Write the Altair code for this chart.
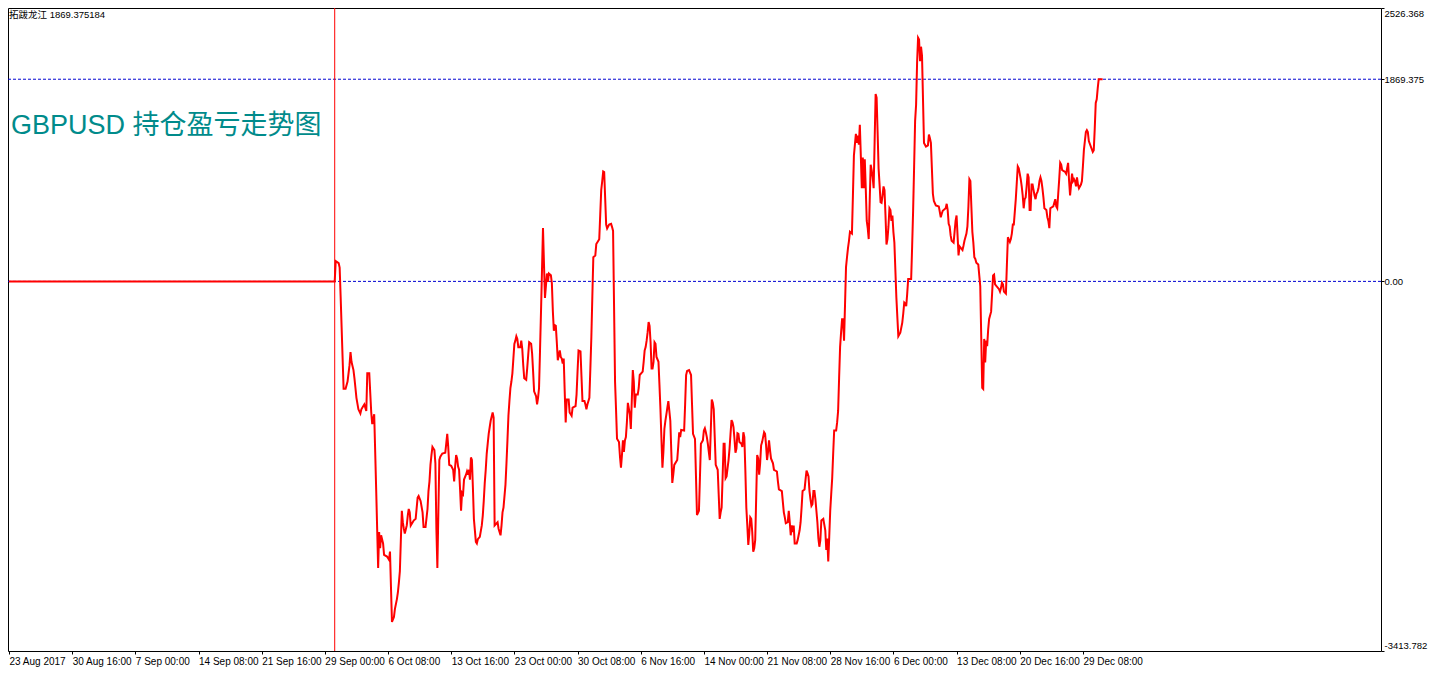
import altair as alt
import pandas as pd

# ---- data (bar index, running P/L) ----
bars = [
    0, 330, 331, 334, 335, 336, 337, 338, 339, 341, 343, 345, 346, 347, 349, 350, 351, 352, 354, 356,
    357, 359, 360, 362, 363, 365, 366, 367, 368, 369, 370, 371, 372, 373, 374, 375, 376, 377, 379, 380,
    383, 385, 386, 387, 388, 390, 391, 393, 394, 395, 396, 397, 398, 399, 400, 401, 403, 404, 405, 406,
    407, 409, 410, 412, 414, 415, 417, 419, 420, 422, 424, 425, 426, 427, 428, 429, 431, 432, 433, 434,
    435, 436, 437, 439, 442, 443, 444, 445, 446, 448, 450, 451, 452, 453, 454, 455, 456, 457, 458, 459,
    460, 461, 463, 464, 465, 466, 467, 468, 469, 470, 471, 472, 473, 474, 475, 477, 479, 480, 481, 482,
    483, 484, 485, 486, 487, 488, 490, 491, 492, 495, 496, 498, 499, 500, 501, 503, 504, 505, 506, 507,
    508, 509, 510, 511, 512, 513, 514, 515, 516, 518, 519, 520, 521, 522, 524, 525, 526, 527, 529, 530,
    531, 532, 534, 535, 536, 537, 538, 539, 540, 541, 542, 543, 545, 546, 547, 549, 550, 551, 552, 553,
    554, 555, 556, 558, 559, 560, 561, 562, 563, 564, 565, 567, 568, 570, 571, 574, 575, 576, 577, 579,
    580, 581, 583, 584, 585, 586, 588, 589, 590, 591, 592, 594, 595, 598, 599, 600, 601, 602, 603, 604,
    605, 606, 608, 610, 611, 612, 613, 614, 615, 616, 618, 619, 620, 621, 622, 623, 624, 625, 626, 627,
    629, 630, 631, 632, 633, 634, 635, 637, 638, 639, 642, 643, 644, 645, 646, 647, 648, 649, 650, 651,
    652, 653, 654, 655, 656, 658, 659, 660, 661, 662, 663, 664, 665, 666, 667, 668, 669, 670, 671, 672,
    673, 674, 677, 678, 679, 680, 681, 684, 685, 686, 687, 689, 691, 692, 693, 695, 696, 697, 699, 700,
    701, 703, 704, 705, 706, 707, 708, 709, 710, 711, 712, 713, 714, 715, 716, 718, 719, 720, 721, 722,
    723, 724, 725, 726, 727, 728, 729, 730, 731, 732, 733, 734, 735, 736, 737, 738, 739, 740, 742, 743,
    744, 745, 746, 747, 748, 749, 750, 751, 752, 753, 754, 755, 756, 757, 758, 759, 760, 761, 762, 763,
    764, 765, 766, 767, 768, 769, 770, 771, 772, 774, 775, 778, 779, 780, 783, 784, 785, 786, 787, 789,
    790, 791, 792, 793, 794, 795, 796, 798, 799, 801, 802, 803, 804, 806, 807, 808, 809, 810, 811, 812,
    813, 814, 815, 816, 817, 818, 819, 820, 821, 822, 823, 825, 827, 828, 829, 830, 831, 832, 833, 834,
    835, 836, 838, 839, 840, 841, 842, 843, 844, 845, 846, 847, 848, 849, 850, 851, 852, 854, 855, 856,
    857, 858, 859, 860, 861, 862, 863, 864, 865, 866, 867, 868, 869, 870, 871, 872, 873, 874, 875, 876,
    877, 878, 879, 880, 881, 882, 883, 884, 885, 886, 887, 888, 889, 890, 891, 892, 893, 894, 895, 896,
    897, 898, 899, 900, 901, 903, 905, 906, 907, 908, 909, 910, 911, 914, 915, 916, 917, 918, 919, 920,
    921, 922, 923, 924, 925, 926, 927, 929, 931, 932, 933, 934, 935, 936, 937, 939, 942, 944, 945, 946,
    949, 950, 951, 952, 953, 954, 955, 957, 958, 959, 960, 961, 962, 963, 966, 967, 968, 970, 971, 972,
    973, 974, 975, 976, 977, 978, 979, 980, 982, 983, 984, 985, 986, 987, 988, 989, 990, 991, 992, 993,
    995, 996, 997, 998, 999, 1003, 1004, 1005, 1006, 1007, 1008, 1010, 1011, 1012, 1014, 1015, 1016, 1017, 1018, 1019,
    1020, 1021, 1022, 1023, 1024, 1025, 1026, 1027, 1028, 1029, 1030, 1031, 1032, 1033, 1034, 1035, 1036, 1037, 1038, 1039,
    1040, 1041, 1042, 1043, 1044, 1045, 1046, 1047, 1048, 1049, 1051, 1052, 1053, 1054, 1055, 1058, 1059, 1060, 1061, 1062,
    1063, 1064, 1065, 1066, 1067, 1070, 1071, 1072, 1073, 1074, 1075, 1076, 1077, 1078, 1079, 1080, 1081, 1082, 1083, 1084,
    1086, 1087, 1088, 1089, 1090, 1091, 1092, 1093, 1094, 1096, 1098, 1099, 1100, 1101, 1102, 1103, 1104, 1106, 1108,
]

pnl = [
    0, 0, 187, 169, 127, -140, -427, -714, -993, -993, -926, -775, -653, -744, -820, -896, -986, -1077, -1183, -1222,
    -1183, -1153, -1138, -1198, -850, -850, -1032, -1213, -1320, -1274, -1229, -1576, -1924, -2287, -2650, -2318, -2468, -2348, -2423, -2529,
    -2545, -2575, -2499, -2831, -3149, -3104, -3028, -2938, -2877, -2786, -2681, -2393, -2121, -2227, -2287, -2332, -2257, -2166, -2105, -2136,
    -2257, -2227, -2212, -2196, -2000, -1985, -2030, -2136, -2272, -2272, -2105, -1939, -1849, -1697, -1606, -1531, -1561, -1683, -2287, -2650,
    -2136, -1652, -1622, -1592, -1585, -1501, -1410, -1531, -1697, -1706, -1742, -1849, -1712, -1606, -1637, -1712, -1742, -1924, -2121, -1955,
    -1969, -1833, -1788, -1758, -1788, -1742, -1833, -1628, -1652, -1909, -2196, -2302, -2409, -2423, -2384, -2363, -2257, -2166, -2030, -1864,
    -1742, -1592, -1501, -1410, -1349, -1289, -1213, -1259, -2257, -2227, -2287, -2348, -2257, -2136, -2091, -1879, -1683, -1470, -1243, -1107,
    -986, -926, -850, -714, -578, -548, -508, -533, -608, -608, -548, -623, -775, -896, -911, -805, -684, -563, -578, -669,
    -835, -1016, -1062, -1138, -1077, -986, -639, -276, 103, 493, 163, -154, 73, -4, 73, 57, -18, -276, -457, -406,
    -412, -563, -730, -639, -699, -714, -760, -714, -1016, -1304, -1093, -1093, -1213, -1243, -1168, -1153, -1047, -835, -639, -648,
    -880, -1107, -1107, -1138, -1183, -1138, -1077, -805, -517, -140, 223, 239, 345, 390, 617, 844, 926, 1016, 1010, 768,
    526, 490, 526, 532, 502, 466, -231, -926, -1183, -1456, -1486, -1622, -1722, -1606, -1470, -1576, -1470, -1440, -1304, -1123,
    -1229, -1365, -1093, -820, -926, -1168, -1047, -1047, -986, -866, -835, -744, -639, -608, -548, -472, -376, -412, -563, -805,
    -805, -744, -563, -578, -699, -744, -957, -1183, -1456, -1722, -1576, -1365, -1289, -1229, -1168, -1107, -1198, -1289, -1576, -1864,
    -1788, -1697, -1652, -1531, -1395, -1440, -1374, -1379, -1138, -866, -829, -820, -866, -1138, -1410, -1456, -1803, -2160, -2121, -1819,
    -1501, -1470, -1379, -1359, -1395, -1440, -1501, -1576, -1652, -1379, -1093, -1123, -1183, -1440, -1697, -1742, -1969, -2196, -2136, -2091,
    -1803, -1501, -1501, -1819, -1803, -1728, -1652, -1546, -1410, -1283, -1304, -1349, -1456, -1585, -1546, -1404, -1410, -1486, -1501, -1531,
    -1395, -1440, -1742, -2091, -2257, -2438, -2332, -2182, -2196, -2318, -2499, -2468, -2393, -2000, -1606, -1637, -1788, -1683, -1516, -1486,
    -1440, -1395, -1410, -1516, -1652, -1576, -1470, -1561, -1637, -1683, -1742, -1758, -1849, -1924, -1939, -2039, -2136, -2182, -2236, -2227,
    -2121, -2227, -2348, -2257, -2318, -2257, -2423, -2423, -2393, -2302, -2227, -2091, -1939, -1924, -1833, -1749, -1773, -1803, -1939, -2015,
    -2075, -2060, -1939, -1939, -2015, -2121, -2227, -2378, -2454, -2393, -2212, -2196, -2302, -2484, -2378, -2590, -2363, -2121, -1969, -1819,
    -1592, -1379, -1379, -1304, -1198, -896, -608, -472, -351, -351, -548, -215, 132, 223, 308, 375, 458, 442, 794, 1163,
    1264, 1364, 1280, 1348, 1264, 1448, 1163, 861, 1146, 861, 1130, 861, 559, 492, 391, 743, 1079, 1029, 962, 861,
    1298, 1733, 1700, 1381, 1045, 895, 733, 727, 794, 878, 844, 609, 341, 391, 508, 676, 660, 559, 609, 458,
    358, 106, -146, -330, -508, -475, -381, -297, -196, -206, -230, -113, 22, 22, 324, 660, 1063, 1482, 1633, 2019,
    2254, 2237, 2036, 2170, 2086, 1683, 1280, 1247, 1257, 1358, 1324, 1280, 1045, 810, 743, 703, 693, 593, 626, 653,
    676, 717, 660, 532, 508, 425, 375, 358, 458, 559, 609, 425, 240, 324, 290, 330, 375, 442, 508, 693,
    945, 928, 693, 458, 358, 223, 207, 173, 156, 55, -45, -515, -985, -995, -532, -750, -548, -599, -448, -348,
    -280, -113, 55, 63, -28, -72, -95, -62, -12, -28, -95, -113, 156, 408, 364, 391, 442, 525, 525, 643,
    760, 911, 1063, 1045, 996, 945, 878, 794, 676, 760, 777, 878, 996, 962, 660, 660, 895, 895, 844, 794,
    760, 810, 828, 861, 928, 962, 928, 861, 777, 676, 660, 593, 559, 492, 676, 693, 727, 760, 693, 676,
    810, 945, 1096, 1079, 1029, 1012, 996, 1045, 1096, 928, 794, 895, 996, 928, 945, 928, 878, 962, 895, 861,
    895, 928, 1063, 1213, 1298, 1381, 1398, 1381, 1298, 1247, 1197, 1213, 1415, 1650, 1683, 1784, 1869.375, 1869.375, 1869.375,
]

tick_bars = [0, 64, 128, 192, 256, 320, 384, 448, 512, 576, 640, 704, 768, 832, 896, 960, 1024, 1088]
tick_labels = [
    "23 Aug 2017", "30 Aug 16:00", "7 Sep 00:00", "14 Sep 08:00", "21 Sep 16:00", "29 Sep 00:00",
    "6 Oct 08:00", "13 Oct 16:00", "23 Oct 00:00", "30 Oct 08:00", "6 Nov 16:00", "14 Nov 00:00",
    "21 Nov 08:00", "28 Nov 16:00", "6 Dec 00:00", "13 Dec 08:00", "20 Dec 16:00", "29 Dec 08:00",
]
price_values = [2526.368, 1869.375184, 0.0, -3413.782]
price_labels = ["2526.368", "1869.375", "0.00", "-3413.782"]
level_values = [1869.375184, 0.0]
marker_bar = [330]
title_text = ["GBPUSD 持仓盈亏走势图"]
info_text = ["拓跋龙江 1869.375184"]

AX_FONT = "Liberation Sans"

df = pd.DataFrame({"bar": bars, "pnl": pnl})
x_scale = alt.Scale(domain=[-1, 1390], nice=False, zero=False)
y_scale = alt.Scale(domain=[-3418, 2528], nice=False, zero=False)

x_expr = "".join(f"datum.value == {b} ? '{t}' : " for b, t in zip(tick_bars, tick_labels)) + "''"
y_expr = "".join(f"abs(datum.value - ({v})) < 0.5 ? '{t}' : " for v, t in zip(price_values, price_labels)) + "''"

x_axis = alt.Axis(
    values=tick_bars, labelExpr=x_expr, title=None, grid=False, domain=False,
    tickSize=3, tickColor="black", labelColor="black", labelFont=AX_FONT,
    labelFontSize=10, labelAlign="left", labelBaseline="top", labelPadding=2,
    labelFlush=False, labelOverlap=False, labelBound=False,
)
y_axis = alt.Axis(
    orient="right", values=price_values, labelExpr=y_expr, title=None, grid=False,
    domain=False, tickSize=3, tickColor="black", labelColor="black", labelFont=AX_FONT,
    labelFontSize=9.5, labelPadding=0, labelFlush=5, labelOverlap=False,
)

levels = alt.Chart(pd.DataFrame({"level": level_values})).mark_rule(
    color="#0000D0", strokeWidth=1, strokeDash=[3, 2]
).encode(y=alt.Y("level:Q", scale=y_scale, axis=y_axis))

line = alt.Chart(df).mark_line(color="#FF0000", strokeWidth=2, interpolate="linear").encode(
    x=alt.X("bar:Q", scale=x_scale, axis=x_axis),
    y=alt.Y("pnl:Q", scale=y_scale, axis=y_axis),
)

marker = alt.Chart(pd.DataFrame({"bar": marker_bar})).mark_rule(
    color="#FF0000", strokeWidth=1
).encode(x=alt.X("bar:Q", scale=x_scale, axis=x_axis))

title = alt.Chart(pd.DataFrame({"t": title_text})).mark_text(
    align="left", baseline="middle", fontSize=27, color="#008B8B",
    font="Liberation Sans, Noto Sans CJK SC",
).encode(text="t:N", x=alt.value(3), y=alt.value(118))

info = alt.Chart(pd.DataFrame({"t": info_text})).mark_text(
    align="left", baseline="top", fontSize=9.5, color="black",
    font="Liberation Sans, Noto Sans CJK SC",
).encode(text="t:N", x=alt.value(1), y=alt.value(2))

chart = alt.layer(levels, line, marker, title, info).properties(
    width=1373,
    height=643,
    padding={"left": 0, "top": 0, "right": 47, "bottom": 21},
    autosize=alt.AutoSizeParams(type="none"),
    background="white",
).configure_view(stroke="black", strokeWidth=1)

chart.save("out.html", embed_options={"renderer": "svg", "actions": False})
